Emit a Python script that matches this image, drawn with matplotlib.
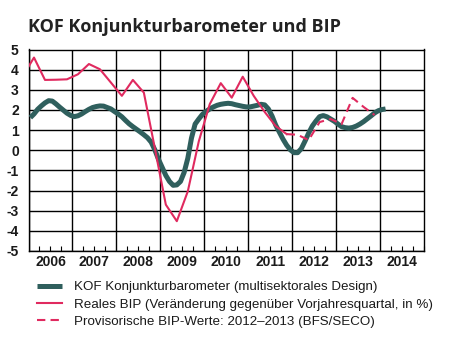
import numpy as np
import matplotlib
matplotlib.use("Agg")
from matplotlib import pyplot as plt
from matplotlib.lines import Line2D

plt.rcParams['font.family'] = ['Liberation Sans', 'DejaVu Sans']
plt.rcParams['axes.unicode_minus'] = False

GREEN = '#2f5f5d'
RED = '#e02a5f'

years = list(range(2006, 2015))

# KOF barometer, monthly from Jan 2006 to Feb 2014
kof = [
    1.62, 1.80, 2.03, 2.20, 2.35, 2.46, 2.44, 2.30, 2.14, 1.99, 1.84, 1.73,
    1.67, 1.71, 1.80, 1.92, 2.03, 2.12, 2.17, 2.20, 2.19, 2.12, 2.05, 1.92,
    1.80, 1.66, 1.48, 1.31, 1.17, 1.04, 0.91, 0.77, 0.62, 0.40, 0.02, -0.45,
    -0.85, -1.25, -1.55, -1.74, -1.72, -1.55, -1.10, -0.40, 0.60, 1.30, 1.55, 1.78,
    1.93, 2.05, 2.15, 2.23, 2.28, 2.31, 2.33, 2.31, 2.26, 2.22, 2.18, 2.15,
    2.15, 2.19, 2.23, 2.28, 2.25, 2.05, 1.70, 1.25, 0.90, 0.55, 0.25, 0.02,
    -0.12, -0.12, 0.08, 0.45, 0.85, 1.20, 1.45, 1.67, 1.72, 1.66, 1.55, 1.44,
    1.30, 1.17, 1.12, 1.10, 1.13, 1.20, 1.30, 1.42, 1.56, 1.70, 1.85, 1.96,
    2.02, 2.05,
]

# real GDP, quarterly, 2005Q4 .. 2011Q4
bip = [
    3.70,
    4.60, 3.49, 3.50, 3.52,
    3.77, 4.28, 4.02, 3.36,
    2.70, 3.49, 2.86, 0.10,
    -2.70, -3.52, -2.04, 0.44,
    2.29, 3.33, 2.61, 3.65,
    2.70, 1.90, 1.20, 0.80,
]
# provisional GDP, 2011Q4 .. 2013Q4
bip_prov = [
    0.80,
    0.77, 0.50, 1.40, 1.55,
    1.30, 2.60, 2.15, 1.75,
]

t_kof = 2006 + (np.arange(len(kof)) + 0.5) / 12
t_bip = 2005.75 + (np.arange(len(bip)) + 0.5) / 4
t_prov = 2011.75 + (np.arange(len(bip_prov)) + 0.5) / 4

fig = plt.figure(figsize=(4.63, 3.52), dpi=100)
ax = fig.add_axes([28.5 / 463, 1 - 251 / 352, (424 - 28.5) / 463, (251 - 49.5) / 352])

ax.plot(t_kof, kof, color=GREEN, lw=3.6, solid_capstyle='butt', zorder=3)
ax.plot(t_bip, bip, color=RED, lw=1.5, zorder=4)
ax.plot(t_prov, bip_prov, color=RED, lw=1.5, dashes=(4, 2.5), zorder=4)

ax.set_xlim(2006, 2015)
ax.set_ylim(-5, 5)

ax.set_yticks(range(-5, 6))
ax.set_xticks(years, minor=False)
ax.set_xticklabels([])
ax.set_xticks(np.arange(2006, 2015.01, 0.25), minor=True)
ax.grid(True, which='major', color='black', lw=1.0)
ax.tick_params(axis='y', length=0, pad=7, labelsize=10, labelcolor='#1a1a1a')
ax.tick_params(axis='x', which='major', length=0)
ax.tick_params(axis='x', which='minor', direction='in', length=3.5, width=0.8)
for lab in ax.get_yticklabels():
    lab.set_fontweight('bold')
for y in years:
    ax.text(y + 0.5, -5.55, str(y), ha='center', va='center', fontsize=10,
            fontweight='bold', color='#1a1a1a', transform=ax.transData)
for s in ax.spines.values():
    s.set_linewidth(1.0)

fig.text(28 / 463, 1 - 27 / 352, 'KOF Konjunkturbarometer und BIP', fontsize=13,
         fontweight='bold', family='Open Sans', color='#222222', va='center')

handles = [
    Line2D([], [], color=GREEN, lw=3.6, solid_capstyle='butt'),
    Line2D([], [], color=RED, lw=1.5),
    Line2D([], [], color=RED, lw=1.5, dashes=(4, 2.5)),
]
labels = [
    'KOF Konjunkturbarometer (multisektorales Design)',
    'Reales BIP (Veränderung gegenüber Vorjahresquartal, in %)',
    'Provisorische BIP-Werte: 2012\u20132013 (BFS/SECO)',
]
fig.legend(handles, labels, loc='upper left', bbox_to_anchor=(37 / 463, 1 - 281 / 352),
           frameon=False, fontsize=9.6, handlelength=1.9, handletextpad=0.9,
           labelspacing=0.38, borderpad=0, borderaxespad=0, labelcolor='#1a1a1a')

fig.savefig('out.png', dpi=100)
